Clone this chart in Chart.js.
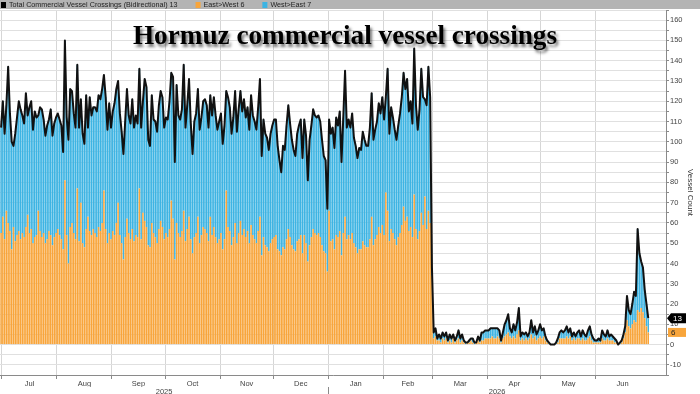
<!DOCTYPE html>
<html>
<head>
<meta charset="utf-8">
<script src="https://cdn.jsdelivr.net/npm/chart.js@4.4.1/dist/chart.umd.min.js"></script>
<style>
    html, body { margin: 0; padding: 0; background: #fff; }
    canvas { display: block; }
</style>
</head>
<body>
<canvas id="grafico_main" width="700" height="394"></canvas>
<script>
// dia 0 = 30 jun 2025, un valor por dia hasta 30 jun 2026
let fecha_inicio = new Date(2025, 5, 30)

let total = [
    107,120,104,118,137,114,100,98,104,112,
    120,116,113,109,124,113,117,120,106,115,
    112,113,117,116,111,103,108,111,116,103,
    109,112,114,111,108,95,150,112,101,126,
    125,114,107,138,107,121,104,99,123,107,
    122,113,117,117,115,123,121,126,133,122,
    106,119,107,115,119,126,130,114,105,94,
    110,126,113,109,121,107,113,109,136,107,
    120,131,127,101,98,123,111,110,105,118,
    125,122,107,112,111,120,134,132,90,128,
    113,111,116,138,107,118,131,109,94,110,
    114,126,106,112,120,121,118,107,123,113,
    122,113,106,110,114,99,108,125,122,117,
    104,112,125,105,116,125,115,121,112,117,
    106,123,113,110,106,117,131,93,111,104,
    102,96,104,108,111,111,98,91,85,98,
    96,108,118,109,101,96,93,104,108,111,
    92,111,103,81,101,108,116,113,112,113,
    110,101,93,91,67,111,104,107,97,112,
    108,115,90,112,135,107,111,107,114,102,
    98,92,97,96,105,101,98,98,107,124,
    101,106,110,119,114,122,111,122,136,104,
    117,112,106,101,108,114,122,134,126,131,
    115,120,109,146,118,106,116,136,122,121,
    118,137,122,38,6,8,3,5,3,6,
    4,6,2,5,3,5,2,4,7,3,
    5,2,1,1,2,3,3,1,1,4,
    2,6,6,7,7,7,8,8,8,8,
    8,7,2,6,10,12,15,8,6,10,
    7,11,18,4,6,5,6,4,6,12,
    6,9,5,7,10,7,8,4,2,1,
    0,0,0,1,3,6,7,6,7,9,
    6,8,4,6,4,6,7,4,7,5,
    4,7,9,5,3,2,2,3,2,7,
    5,4,7,4,5,4,3,2,0,1,
    2,5,9,24,17,15,20,26,24,57,
    45,41,38,27,20,13
]

let east_west = [
    55,63,52,66,60,56,47,58,51,54,
    56,52,55,53,58,64,55,57,50,53,
    54,66,56,53,55,50,52,56,54,49,
    53,55,57,54,52,47,81,54,40,58,
    60,55,52,77,51,70,50,48,57,63,
    56,54,57,55,53,58,56,60,76,57,
    50,55,52,56,54,60,70,54,50,42,
    53,62,55,52,57,51,54,53,77,52,
    65,61,58,49,48,60,55,53,50,57,
    61,58,52,55,53,57,71,62,42,60,
    55,53,56,66,51,57,63,52,45,53,
    55,63,50,54,58,57,55,51,63,54,
    58,53,50,52,55,47,52,76,58,56,
    49,53,60,50,55,61,54,57,53,56,
    50,59,54,52,50,56,63,44,53,49,
    48,46,50,52,53,54,47,46,44,48,
    47,52,57,53,49,47,46,51,52,54,
    45,54,50,41,49,53,57,55,54,55,
    53,49,46,45,36,66,51,52,47,54,
    53,56,44,55,63,52,54,52,55,50,
    48,45,47,47,51,49,48,48,52,63,
    49,52,54,58,55,59,54,75,66,51,
    57,55,52,49,53,55,59,68,61,63,
    56,58,53,74,57,52,56,65,59,73,
    57,66,60,34,3,4,2,2,1,3,
    2,3,1,2,1,3,1,2,3,1,
    2,1,0,1,1,2,1,0,1,2,
    1,2,2,3,3,3,3,4,3,3,
    4,3,1,3,4,5,6,4,3,4,
    3,5,7,2,3,2,3,2,3,5,
    3,4,2,3,4,3,4,2,1,0,
    0,0,0,0,1,3,3,3,3,4,
    3,4,2,3,2,3,3,2,3,2,
    2,3,4,2,1,1,1,1,1,3,
    2,2,3,2,2,2,1,1,0,0,
    1,3,6,12,9,8,10,12,11,17,
    16,18,16,13,9,6
]

// el total es bidireccional: lo que no va al oeste va al este
let west_east = total.map((t, i) => t - east_west[i])

let meses = ['Jul', 'Aug', 'Sep', 'Oct', 'Nov', 'Dec', 'Jan', 'Feb', 'Mar', 'Apr', 'May', 'Jun']
let anios = ['2025', '2026']

let colores = {
    total: '#111111',
    este: '#F8A53B',
    oeste: '#3DB4E3',
}

/*
    ||=====================================================
    || EJES
    ||=====================================================
*/

const X_MIN = -0.6
const X_MAX = 375

function dia_de(fecha){
    return Math.round((fecha - fecha_inicio) / 86400000)
}

// limites de mes (entre dias) y centros para las etiquetas
let limites = []
let centros = []
for (let m = 0; m < meses.length; m++) {
    let ini = dia_de(new Date(2025, 6 + m, 1))
    let fin = dia_de(new Date(2025, 7 + m, 1))
    limites.push(ini - 0.5)
    centros.push((ini + fin - 1) / 2)
}
let ticks_x = limites.concat(centros).sort((a, b) => a - b)
let es_limite = v => limites.indexOf(v) >= 0

let corte_anio = dia_de(new Date(2026, 0, 1)) - 0.5
let pos_anios = [(X_MIN + corte_anio) / 2, corte_anio, (corte_anio + X_MAX) / 2]
let txt_anios = [anios[0], '', anios[1]]

let puntos = arr => arr.map((v, i) => ({x: i, y: v}))

let fuente_ejes = {family: '"Liberation Sans", Arial, sans-serif', size: 7.5}

/*
    ||=====================================================
    || DECORADO: barra de leyenda, titulo, etiquetas finales
    ||=====================================================
*/

const decorado = {
    id: 'decorado',
    beforeDraw(chart) {
        let ctx = chart.ctx
        ctx.save()
        ctx.fillStyle = '#b4b4b4'
        ctx.fillRect(0, 0, chart.width, 9)
        ctx.font = '7.2px "Liberation Sans", Arial, sans-serif'
        ctx.textBaseline = 'middle'
        let x = 1
        chart.data.datasets.forEach(ds => {
            let ultimo = ds.data[ds.data.length - 1].y
            ctx.fillStyle = ds.cuadro
            ctx.fillRect(x, 2, 5, 6)
            x += 8
            let txt = ds.label + ' ' + ultimo
            ctx.fillStyle = '#222'
            ctx.fillText(txt, x, 5)
            x += ctx.measureText(txt).width + 18
        })
        ctx.restore()
    },
    afterDraw(chart) {
        let ctx = chart.ctx
        let y = chart.scales.y
        ctx.save()
        // titulo
        let titulo = 'Hormuz commercial vessel crossings'
        ctx.font = 'bold 26px "Liberation Serif", "DejaVu Serif", serif'
        let escala = 424 / ctx.measureText(titulo).width
        ctx.font = 'bold ' + (26 * escala).toFixed(1) + 'px "Liberation Serif", "DejaVu Serif", serif'
        ctx.textAlign = 'center'
        ctx.textBaseline = 'alphabetic'
        ctx.shadowColor = 'rgba(0,0,0,0.55)'
        ctx.shadowBlur = 3
        ctx.shadowOffsetX = 2
        ctx.shadowOffsetY = 3
        ctx.fillStyle = '#000'
        ctx.fillText(titulo, 345, 44)
        ctx.restore()

        // etiquetas del ultimo valor sobre el eje
        ctx.save()
        ctx.font = '8px "Liberation Sans", Arial, sans-serif'
        ctx.textBaseline = 'middle'
        let x0 = chart.chartArea.right
        let yt = y.getPixelForValue(total[total.length - 1])
        ctx.fillStyle = '#000'
        ctx.beginPath()
        ctx.moveTo(x0 + 1, yt)
        ctx.lineTo(x0 + 5, yt - 5)
        ctx.lineTo(x0 + 20, yt - 5)
        ctx.lineTo(x0 + 20, yt + 5)
        ctx.lineTo(x0 + 5, yt + 5)
        ctx.closePath()
        ctx.fill()
        ctx.fillStyle = '#fff'
        ctx.fillText(String(total[total.length - 1]), x0 + 7, yt + 0.5)

        let ye = y.getPixelForValue(east_west[east_west.length - 1])
        ctx.fillStyle = colores.este
        ctx.fillRect(x0 + 2, ye - 4.5, 18, 9)
        ctx.fillStyle = '#222'
        ctx.fillText(String(east_west[east_west.length - 1]), x0 + 5, ye + 0.5)
        ctx.restore()
    }
}

/*
    ||=====================================================
    || GRAFICO
    ||=====================================================
*/

let configuracion = {
    type: 'bar',
    data: {
        datasets: [
            {
                type: 'line',
                label: 'Total Commercial Vessel Crossings (Bidirectional)',
                data: puntos(total),
                borderColor: colores.total,
                borderWidth: 2,
                pointRadius: 0,
                tension: 0,
                borderJoinStyle: 'round',
                stack: 'linea',
                order: 0,
                cuadro: '#000',
            },
            {
                label: 'East>West',
                data: puntos(east_west),
                backgroundColor: colores.este,
                stack: 'barras',
                order: 1,
                barPercentage: 0.85,
                categoryPercentage: 1,
                cuadro: colores.este,
            },
            {
                label: 'West>East',
                data: puntos(west_east),
                backgroundColor: colores.oeste,
                stack: 'barras',
                order: 1,
                barPercentage: 0.85,
                categoryPercentage: 1,
                cuadro: colores.oeste,
            },
        ]
    },
    options: {
        responsive: false,
        animation: false,
        layout: { padding: { top: 10, left: 0, right: 0, bottom: 0 } },
        plugins: {
            legend: { display: false },
            tooltip: { enabled: false },
        },
        scales: {
            x: {
                type: 'linear',
                position: 'bottom',
                stacked: true,
                offset: false,
                min: X_MIN,
                max: X_MAX,
                weight: 0,
                afterBuildTicks: s => { s.ticks = ticks_x.map(v => ({value: v})) },
                afterFit: s => { s.height = 12 },
                ticks: {
                    autoSkip: false,
                    maxRotation: 0,
                    padding: 0,
                    color: '#444',
                    font: fuente_ejes,
                    callback: v => {
                        let i = centros.indexOf(v)
                        return i >= 0 ? meses[i] : ''
                    },
                },
                grid: {
                    offset: false,
                    tickLength: 4,
                    color: c => (c.tick && es_limite(c.tick.value)) ? '#d6d6d6' : 'rgba(0,0,0,0)',
                    tickColor: c => (c.tick && es_limite(c.tick.value)) ? '#8a8a8a' : 'rgba(0,0,0,0)',
                },
                border: { color: '#8a8a8a' },
            },
            x_anio: {
                type: 'linear',
                position: 'bottom',
                offset: false,
                min: X_MIN,
                max: X_MAX,
                weight: 1,
                afterBuildTicks: s => { s.ticks = pos_anios.map(v => ({value: v})) },
                afterFit: s => { s.height = 7 },
                ticks: {
                    autoSkip: false,
                    maxRotation: 0,
                    padding: -7,
                    color: '#444',
                    font: fuente_ejes,
                    callback: (v, i) => txt_anios[i],
                },
                grid: {
                    offset: false,
                    drawOnChartArea: false,
                    tickLength: 7,
                    color: c => c.index === 1 ? '#8a8a8a' : 'rgba(0,0,0,0)',
                },
                border: { display: false },
            },
            y: {
                position: 'right',
                stacked: true,
                min: -15,
                max: 165,
                afterBuildTicks: s => {
                    s.ticks = []
                    for (let v = -15; v <= 165; v += 5) s.ticks.push({value: v})
                },
                afterFit: s => { s.width = 34 },
                ticks: {
                    autoSkip: false,
                    padding: 1,
                    color: '#444',
                    font: fuente_ejes,
                    callback: v => (v % 10 === 0 ? String(v) : ''),
                },
                grid: { color: '#e0e0e0', tickLength: 3, tickColor: '#8a8a8a' },
                border: { color: '#8a8a8a' },
                title: {
                    display: true,
                    text: 'Vessel Count',
                    color: '#333',
                    font: {family: '"Liberation Sans", Arial, sans-serif', size: 8},
                    padding: { top: 5, bottom: 0 },
                },
            },
        }
    },
    plugins: [decorado],
}

let ctx = document.getElementById('grafico_main').getContext('2d')
let grafico_main = new Chart(ctx, configuracion)
</script>
</body>
</html>
